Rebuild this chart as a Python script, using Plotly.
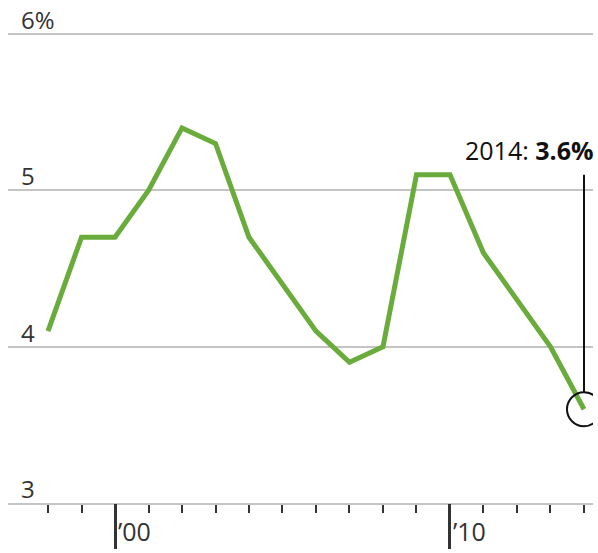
import plotly.graph_objects as go

years = list(range(1998, 2015))
rate = [4.1, 4.7, 4.7, 5.0, 5.4, 5.3, 4.7, 4.4, 4.1, 3.9, 4.0, 5.1, 5.1, 4.6, 4.3, 4.0, 3.6]
y_ticks = [3, 4, 5, 6]
y_labels = ["3", "4", "5", "6%"]
major_years = [2000, 2010]
major_labels = ["\u201900", "\u201910"]

FONT = "Open Sans"
TXT = "#333333"
GRID = "#c4c4c4"
GREEN = "#6aac3c"

fig = go.Figure()
fig.add_trace(go.Scatter(x=years, y=rate, mode="lines",
                         line=dict(color=GREEN, width=5), hoverinfo="skip",
                         showlegend=False))
# invisible trace so the second (major tick) axis renders
fig.add_trace(go.Scatter(x=[years[0]], y=[rate[0]], xaxis="x2", mode="markers",
                         marker=dict(opacity=0), showlegend=False, hoverinfo="skip"))

xr = [1996.806, 2014.269]
fig.update_layout(
    width=598, height=553,
    margin=dict(l=8, r=5, t=31, b=47),
    paper_bgcolor="white", plot_bgcolor="white",
    font=dict(family=FONT, color=TXT),
    hovermode=False,
    xaxis=dict(range=xr, tickvals=years, ticks="outside", ticklen=8, tickwidth=2,
               tickcolor=TXT, showticklabels=False, showgrid=False, zeroline=False,
               showline=True, linecolor=GRID, linewidth=2, fixedrange=True),
    xaxis2=dict(range=xr, overlaying="x", anchor="y", side="bottom",
                tickvals=major_years, ticks="outside", ticklen=45, tickwidth=3,
                tickcolor=TXT, showticklabels=False, showgrid=False,
                zeroline=False, showline=False, fixedrange=True),
    yaxis=dict(range=[3, 6.02], tickvals=y_ticks, showticklabels=False,
               showgrid=True, gridcolor=GRID, gridwidth=2, zeroline=False,
               fixedrange=True),
)

for v, t in zip(y_ticks, y_labels):
    fig.add_annotation(x=0, xref="paper", y=v, yref="y", text=t, showarrow=False,
                       xanchor="left", yanchor="bottom", xshift=11, yshift=-4,
                       font=dict(size=24, color=TXT, family=FONT))

for v, t in zip(major_years, major_labels):
    fig.add_annotation(x=v, xref="x", y=0, yref="paper", text=t, showarrow=False,
                       xanchor="left", yanchor="top", xshift=2, yshift=-10,
                       borderpad=0,
                       font=dict(size=25, color=TXT, family=FONT))

last_x, last_y = years[-1], rate[-1]
callout_top = 5.1
r_px = 17
fig.add_shape(type="circle", xref="x", yref="y", xsizemode="pixel", ysizemode="pixel",
              xanchor=last_x, yanchor=last_y, x0=-r_px, x1=r_px, y0=-r_px, y1=r_px,
              line=dict(color="#111111", width=2), fillcolor="rgba(0,0,0,0)")
fig.add_shape(type="line", xref="x", yref="y", x0=last_x, x1=last_x,
              y0=last_y + r_px / 157.3, y1=callout_top,
              line=dict(color="#111111", width=2))
fig.add_annotation(x=last_x, xref="x", y=callout_top, yref="y",
                   text=f"{last_x}: <b>{last_y}%</b>", showarrow=False,
                   xanchor="right", yanchor="bottom", xshift=12, yshift=6,
                   font=dict(size=25, color="#111111", family=FONT))

fig.write_html("out.html", config={"displayModeBar": False, "staticPlot": True},
               post_script="document.body.style.margin='0';"
                           "document.body.style.overflow='hidden';")
